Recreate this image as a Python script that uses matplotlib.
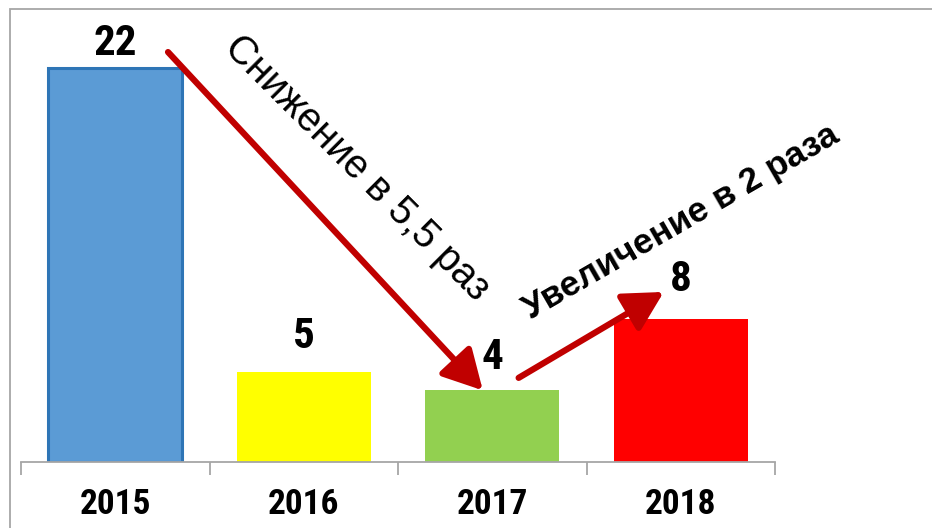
import matplotlib
matplotlib.use("Agg")
import matplotlib.pyplot as plt
from matplotlib.patches import Rectangle

# chart data
years = ["2015", "2016", "2017", "2018"]
values = [22, 5, 4, 8]
bar_colors = ["#5B9BD5", "#FFFF00", "#92D050", "#FF0000"]
label_offsets = [18, 26, 24, 28]  # points above the bar top, labels were hand placed

narrow = ["Liberation Sans Narrow", "Roboto Condensed", "DejaVu Sans Condensed",
          "Liberation Sans", "DejaVu Sans"]
regular = ["Liberation Sans", "DejaVu Sans"]
arrow_red = "#C00000"

fig = plt.figure(figsize=(9.32, 5.28), dpi=100)
fig.patch.set_facecolor("white")

# gray frame of the chart area (runs off the right and bottom edges)
fig.patches.append(Rectangle((10 / 932, -0.2), 1.2, 1.2 - 9 / 528,
                             transform=fig.transFigure, fill=False,
                             edgecolor="#A6A6A6", lw=1.3))

ax = fig.add_axes([21 / 932, 66 / 528, 754 / 932, 452 / 528])
x = list(range(len(years)))
bars = ax.bar(x, values, width=0.71, color=bar_colors, zorder=2)
bars[0].set_edgecolor("#2E75B6")
bars[0].set_linewidth(2.2)

ax.set_xlim(-0.5, len(years) - 0.5)
ax.set_ylim(0, 25.25)
ax.patch.set_alpha(0)

for side in ["left", "right", "top"]:
    ax.spines[side].set_visible(False)
ax.spines["bottom"].set_color("#A6A6A6")
ax.spines["bottom"].set_linewidth(1.3)
ax.spines["bottom"].set_zorder(3)
ax.set_yticks([])

ax.set_xticks(x)
ax.set_xticklabels(years, fontfamily=narrow, fontweight="bold", fontsize=25.5)
ax.set_xticks([i - 0.5 for i in range(len(years) + 1)], minor=True)
ax.tick_params(axis="x", which="major", length=0, pad=19)
ax.tick_params(axis="x", which="minor", length=9.5, width=1.3, color="#A6A6A6",
               direction="out")

# value labels
for xi, v, off in zip(x, values, label_offsets):
    ax.annotate(str(v), (xi, v), xytext=(0, off), textcoords="offset points",
                ha="center", va="center", fontsize=31, fontweight="bold",
                fontfamily=narrow)

# trend arrows
def arrow(start, end):
    ax.annotate("", xy=end, xytext=start,
                arrowprops=dict(arrowstyle="-|>,head_length=24,head_width=13",
                                mutation_scale=1, color=arrow_red, lw=4.5,
                                shrinkA=0, shrinkB=0), zorder=4)

arrow((0.28, values[0] + 0.9), (1.95, values[2]))
arrow((2.14, values[2] + 0.7), (2.91, values[3] + 1.5))

ax.text(1.28, 16.4, "Снижение в 5,5 раз", rotation=-45, rotation_mode="anchor",
        ha="center", va="center", fontsize=28.5, fontfamily=regular)
ax.text(3.0, 13.4, "Увеличение в 2 раза", rotation=30, rotation_mode="anchor",
        ha="center", va="center", fontsize=25.5, fontweight="bold",
        fontfamily=regular)

fig.savefig("out.png", dpi=100)
